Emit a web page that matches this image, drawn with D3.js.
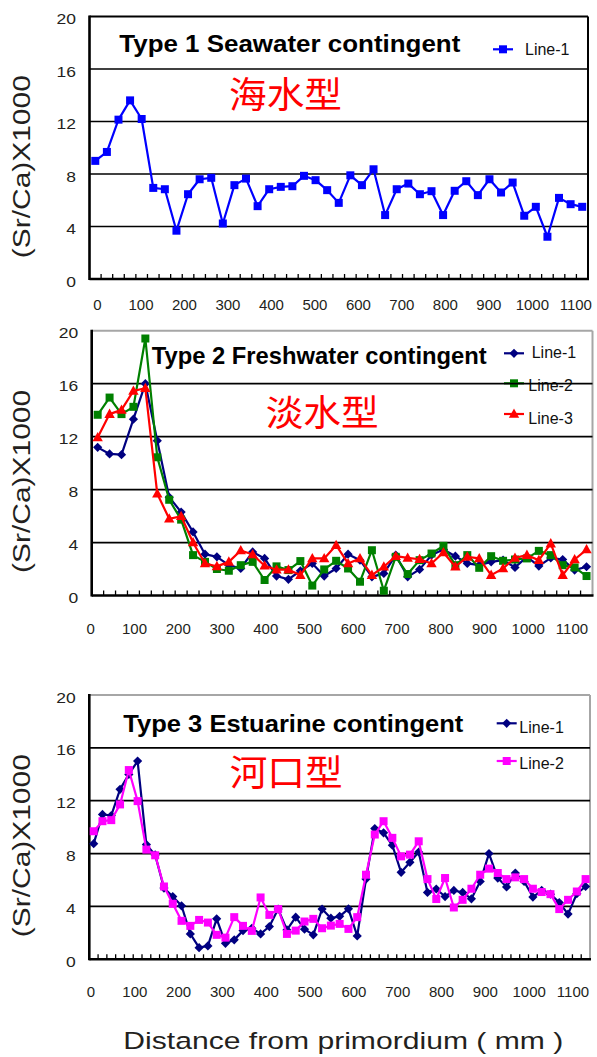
<!DOCTYPE html>
<html><head><meta charset="utf-8">
<script src="https://cdn.jsdelivr.net/npm/d3@7"></script>
<style>
body{margin:0;background:#fff}
svg{display:block}
text{font-family:Arial,"Liberation Sans",sans-serif}
</style>
</head><body>
<svg id="c" width="597" height="1057"></svg>
<script>
// ---------- DATA ----------
const xTickLabels = [0,100,200,300,400,500,600,700,800,900,1000,1100];
const yTickLabels = [0,4,8,12,16,20];

// Type 1 Seawater (Line-1)
const seawater = [9.0,9.68,12.14,13.61,12.19,6.94,6.84,3.68,6.46,7.6,7.71,4.23,7.15,7.65,5.55,6.84,7.02,7.07,7.86,7.53,6.77,5.8,7.9,7.15,8.36,4.87,6.84,7.27,6.46,6.69,4.87,6.72,7.45,6.39,7.6,6.59,7.35,4.82,5.5,3.22,6.18,5.7,5.5];

// Type 2 Freshwater
const fresh1 = [11.19,10.69,10.64,13.32,16.0,11.69,7.43,6.3,4.8,3.12,2.92,2.29,2.04,3.29,2.80,1.47,1.22,1.87,2.42,1.47,2.04,3.12,2.67,1.41,1.67,3.05,1.41,1.97,3.05,3.47,2.97,2.42,2.29,2.54,2.67,2.12,2.92,2.22,2.84,2.72,1.92,2.17];
const fresh2 = [13.65,14.95,13.7,14.25,19.41,10.44,7.23,5.73,3.05,2.54,2.0,1.87,2.29,2.54,1.17,2.2,1.92,2.6,0.75,1.97,2.62,2.04,1.04,3.42,0.36,2.92,1.62,2.67,3.17,3.75,2.29,3.05,2.09,2.97,2.62,2.72,2.80,3.37,3.05,2.29,2.12,1.47];
const fresh3 = [11.94,13.7,14.02,15.45,15.65,7.68,5.8,5.98,4.0,2.42,2.2,2.54,3.4,3.1,2.25,1.95,1.95,1.54,2.80,2.80,3.8,2.42,2.80,1.54,2.17,2.97,2.84,2.74,2.42,3.25,2.17,2.92,2.80,1.54,2.04,2.84,3.05,2.67,3.92,1.54,2.72,3.47];

// Type 3 Estuarine
const estu1 = [8.75,10.96,10.88,12.86,13.99,15.0,8.68,7.9,5.39,4.75,4.05,1.92,0.88,1.01,3.06,1.21,1.47,2.17,2.35,1.92,2.48,3.8,2.22,3.19,2.28,1.85,3.80,3.11,3.25,3.82,1.77,6.07,9.89,9.57,8.63,6.58,7.34,8.12,5.06,5.32,4.75,5.21,5.06,4.58,5.89,8.0,6.15,5.47,6.53,5.89,4.71,5.21,4.93,4.30,3.42,4.96,5.51];
const estu2 = [9.69,10.45,10.53,11.72,14.32,11.97,8.30,7.87,5.51,4.2,2.91,2.53,2.98,2.78,1.85,1.64,3.19,2.53,2.15,4.68,3.36,3.80,1.92,2.17,2.86,3.06,2.35,2.55,2.68,2.30,3.19,6.40,9.44,10.45,9.19,7.79,7.92,8.93,6.07,4.56,6.15,3.92,4.50,5.34,6.40,6.86,6.53,6.07,6.20,6.07,5.34,5.09,4.93,3.80,4.50,5.13,6.07];

const seriesNames = ["Line-1","Line-2","Line-3"];
const titles = ["Type 1 Seawater contingent","Type 2 Freshwater contingent","Type 3 Estuarine contingent"];
const cjkTitles = ["海水型","淡水型","河口型"];
const yTitle = "(Sr/Ca)X1000";
const xTitle = "Distance from primordium ( mm )";

// ---------- LAYOUT ----------
const svg = d3.select("#c");
svg.append("rect").attr("width",597).attr("height",1057).attr("fill","#fff");

const markers = {
  square: "M-4,-4L4,-4L4,4L-4,4Z",
  diamond: "M0,-4.6L4.6,0L0,4.6L-4.6,0Z",
  triangle: "M0,-5.5L5.2,3.8L-5.2,3.8Z"
};

const panels = [
  {top:16.5, bottom:279, left:89.5, right:588, frame:"#000",
   lab:[97.5,575.8], labY:310,
   title:{x:119.3,y:51.7,len:341}, cjk:{x:229,y:107.5},
   ylabY:166.7,
   series:[{v:seawater,c:"#0000ff",m:"square"}],
   legend:[{y:49.3,x1:493,x2:513,tx:525,ty:55}]},
  {top:330.7, bottom:595.5, left:91.7, right:592.5, frame:"#a6a6a6",
   lab:[90.75,572], labY:634,
   title:{x:151.7,y:364,len:335}, cjk:{x:265.7,y:425.8},
   ylabY:481.4,
   series:[{v:fresh1,c:"#000080",m:"diamond"},{v:fresh2,c:"#008000",m:"square"},{v:fresh3,c:"#ff0000",m:"triangle"}],
   legend:[{y:353.3,x1:504,x2:524,tx:531.7,ty:358.3},{y:383.3,x1:504,x2:524,tx:528.3,ty:391},{y:414,x1:504,x2:524,tx:528.3,ty:424.3}]},
  {top:695, bottom:959.3, left:89.3, right:590, frame:"#a6a6a6",
   lab:[91,573], labY:997,
   title:{x:123.3,y:731.7,len:340}, cjk:{x:229.7,y:785.8},
   ylabY:845.7,
   series:[{v:estu1,c:"#000080",m:"diamond"},{v:estu2,c:"#ff00ff",m:"square"}],
   legend:[{y:723.3,x1:496.7,x2:516.7,tx:519.3,ty:733.3},{y:761,x1:496.7,x2:516.7,tx:519.3,ty:769.3}]}
];

panels.forEach((p,pi) => {
  const g = svg.append("g");
  const n = p.series[0].v.length;
  const x = d3.scalePoint().domain(d3.range(n)).range([p.left,p.right]).padding(0.5);
  const y = d3.scaleLinear().domain([0,20]).range([p.bottom,p.top]);
  const xl = d3.scaleLinear().domain([0,1100]).range(p.lab);

  // top & right frame
  g.append("line").attr("x1",p.left).attr("x2",p.right).attr("y1",p.top).attr("y2",p.top)
    .attr("stroke",p.frame).attr("stroke-width",2);
  g.append("line").attr("x1",p.right).attr("x2",p.right).attr("y1",p.top).attr("y2",p.bottom)
    .attr("stroke",p.frame).attr("stroke-width",2);

  // legend (drawn under gridlines)
  p.legend.forEach((L,i) => {
    const s = p.series[i];
    g.append("line").attr("x1",L.x1).attr("x2",L.x2).attr("y1",L.y).attr("y2",L.y)
      .attr("stroke",s.c).attr("stroke-width",2.2);
    g.append("path").attr("d",markers[s.m]).attr("fill",s.c)
      .attr("transform",`translate(${(L.x1+L.x2)/2},${L.y})`);
    g.append("text").attr("x",L.tx).attr("y",L.ty).attr("font-size",16).attr("fill","#111")
      .text(seriesNames[i]);
  });

  // gridlines
  g.selectAll(".grid").data(yTickLabels.filter(v=>v>0 && v<20)).join("line")
    .attr("x1",p.left).attr("x2",p.right).attr("y1",d=>y(d)).attr("y2",d=>y(d))
    .attr("stroke","#000").attr("stroke-width",1.7);

  // category tick marks on bottom axis (inside)
  const step = x.step();
  g.selectAll(".tk").data(d3.range(1,n)).join("line")
    .attr("x1",i=>x(i)-step/2).attr("x2",i=>x(i)-step/2)
    .attr("y1",p.bottom).attr("y2",p.bottom-5)
    .attr("stroke","#000").attr("stroke-width",1.3);

  // axes lines
  g.append("line").attr("x1",p.left).attr("x2",p.right+1).attr("y1",p.bottom).attr("y2",p.bottom)
    .attr("stroke","#000").attr("stroke-width",2.6);
  g.append("line").attr("x1",p.left).attr("x2",p.left).attr("y1",p.top-1).attr("y2",p.bottom+1)
    .attr("stroke","#000").attr("stroke-width",2.6);

  // y tick labels
  g.selectAll(".yl").data(yTickLabels).join("text")
    .attr("transform",d=>`translate(${p.left-13.5},${y(d)+7.5}) scale(1.25,1)`)
    .attr("text-anchor","end").attr("font-size",14).attr("fill","#231f20")
    .text(d=>d);

  // x tick labels
  g.selectAll(".xlab").data(xTickLabels).join("text")
    .attr("x",d=>xl(d)).attr("y",p.labY).attr("text-anchor","middle")
    .attr("font-size",15).attr("fill","#231f20").text(d=>d);

  // y title
  g.append("text").attr("transform",`translate(30.1,${p.ylabY}) rotate(-90)`)
    .attr("text-anchor","middle").attr("font-size",23).attr("fill","#231f20")
    .attr("textLength",183).attr("lengthAdjust","spacingAndGlyphs").text(yTitle);

  // titles
  g.append("text").attr("x",p.title.x).attr("y",p.title.y).attr("font-size",24)
    .attr("font-weight","bold").attr("fill","#000")
    .attr("textLength",p.title.len).attr("lengthAdjust","spacingAndGlyphs").text(titles[pi]);
  g.append("text").attr("x",p.cjk.x).attr("y",p.cjk.y).attr("font-size",36)
    .style("font-family","'Noto Sans CJK SC','Noto Sans CJK JP',sans-serif")
    .attr("fill","#ff0000").attr("textLength",113).attr("lengthAdjust","spacingAndGlyphs")
    .text(cjkTitles[pi]);

  // series
  const line = d3.line().x((d,i)=>x(i)).y(d=>y(d));
  p.series.forEach(s => {
    g.append("path").datum(s.v).attr("d",line).attr("fill","none")
      .attr("stroke",s.c).attr("stroke-width",2.2).attr("stroke-linejoin","round");
    g.selectAll(null).data(s.v).join("path").attr("d",markers[s.m]).attr("fill",s.c)
      .attr("transform",(d,i)=>`translate(${x(i)},${y(d)})`);
  });
});

// x title
svg.append("text").attr("x",123.3).attr("y",1049.3).attr("font-size",24.5).attr("fill","#231f20")
  .attr("textLength",440).attr("lengthAdjust","spacingAndGlyphs").text(xTitle);
</script>
</body></html>
